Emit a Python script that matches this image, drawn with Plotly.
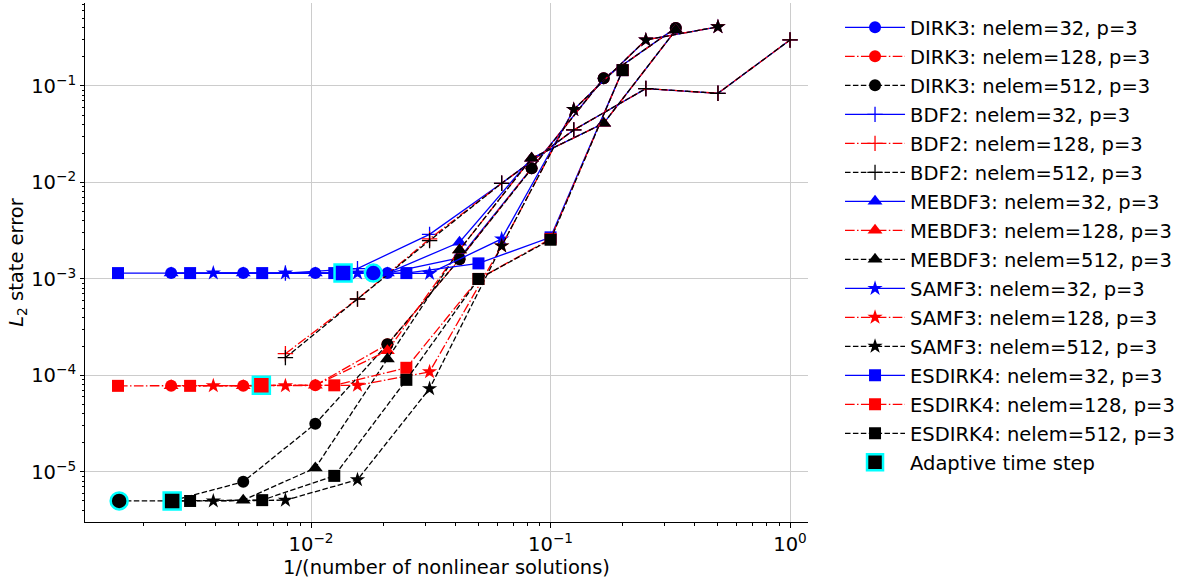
import plotly.graph_objects as go

# ---------------- data ----------------
dirk3_x = [1/384, 1/192, 1/96, 1/48, 1/24, 1/12, 1/6, 1/3]
dirk3_32 = [1.15e-3, 1.15e-3, 1.15e-3, 1.15e-3, 1.65e-3, 1.4e-2, 0.12, 0.40]
dirk3_128 = [7.8e-5, 7.8e-5, 7.9e-5, 2.1e-4, 1.6e-3, 1.4e-2, 0.12, 0.40]
dirk3_512 = [5.0e-6, 7.9e-6, 3.15e-5, 2.1e-4, 1.6e-3, 1.4e-2, 0.12, 0.40]

bdf2_x = [1/128, 1/64, 1/32, 1/16, 1/8, 1/4, 1/2, 1]
bdf2_32 = [1.15e-3, 1.28e-3, 2.9e-3, 9.8e-3, 3.5e-2, 9.4e-2, 8.4e-2, 0.30]
bdf2_128 = [1.68e-4, 6.2e-4, 2.6e-3, 9.8e-3, 3.5e-2, 9.4e-2, 8.4e-2, 0.30]
bdf2_512 = [1.53e-4, 6.2e-4, 2.5e-3, 9.8e-3, 3.5e-2, 9.4e-2, 8.4e-2, 0.30]

mebdf3_x = [1/384, 1/192, 1/96, 1/48, 1/24, 1/12, 1/6, 1/3]
mebdf3_32 = [1.15e-3, 1.15e-3, 1.15e-3, 1.15e-3, 2.4e-3, 1.78e-2, 4.1e-2, 0.38]
mebdf3_128 = [7.8e-5, 7.8e-5, 7.9e-5, 1.8e-4, 2.0e-3, 1.78e-2, 4.1e-2, 0.38]
mebdf3_512 = [5.0e-6, 5.1e-6, 1.1e-5, 1.48e-4, 2.0e-3, 1.78e-2, 4.1e-2, 0.38]

samf3_x = [1/256, 1/128, 1/64, 1/32, 1/16, 1/8, 1/4, 1/2]
samf3_32 = [1.15e-3, 1.15e-3, 1.15e-3, 1.14e-3, 2.6e-3, 5.7e-2, 0.30, 0.41]
samf3_128 = [7.8e-5, 7.8e-5, 7.9e-5, 1.09e-4, 2.2e-3, 5.7e-2, 0.30, 0.41]
samf3_512 = [5.0e-6, 5.1e-6, 8.3e-6, 7.3e-5, 2.2e-3, 5.7e-2, 0.30, 0.41]

esdirk4_x = [1/640, 1/320, 1/160, 1/80, 1/40, 1/20, 1/10, 1/5]
esdirk4_32 = [1.15e-3, 1.15e-3, 1.15e-3, 1.15e-3, 1.15e-3, 1.45e-3, 2.7e-3, 0.146]
esdirk4_128 = [7.8e-5, 7.8e-5, 7.8e-5, 7.9e-5, 1.2e-4, 1.0e-3, 2.6e-3, 0.146]
esdirk4_512 = [5.0e-6, 5.0e-6, 5.1e-6, 9.1e-6, 9.0e-5, 1.0e-3, 2.55e-3, 0.146]

# adaptive time step results
adaptive_method = ["DIRK3", "ESDIRK4", "ESDIRK4", "DIRK3", "ESDIRK4"]
adaptive_nelem = [32, 32, 128, 512, 512]
adaptive_x = [0.0182, 0.0136, 6.2e-3, 1.58e-3, 2.63e-3]
adaptive_y = [1.15e-3, 1.15e-3, 7.9e-5, 5.0e-6, 5.0e-6]

nelems = [32, 128, 512]
x_tickvals = [1e-2, 1e-1, 1e0]
x_ticktext = ["10<sup>\u22122</sup>", "10<sup>\u22121</sup>", "10<sup>0</sup>"]
y_tickvals = [1e-5, 1e-4, 1e-3, 1e-2, 1e-1]
y_ticktext = ["10<sup>\u22125</sup>", "10<sup>\u22124</sup>", "10<sup>\u22123</sup>",
              "10<sup>\u22122</sup>", "10<sup>\u22121</sup>"]

# ---------------- styling ----------------
colors = {32: "#0000ff", 128: "#ff0000", 512: "#000000"}
dashes = {32: "solid", 128: "9.6px,2.4px,1.5px,2.4px", 512: "5.5px,2.4px"}
symbols = {"DIRK3": "circle", "BDF2": "cross-thin", "MEBDF3": "triangle-up",
           "SAMF3": "star", "ESDIRK4": "square"}
msize = {"DIRK3": 12, "BDF2": 11, "MEBDF3": 13, "SAMF3": 11.5, "ESDIRK4": 12}

series = [
    ("DIRK3", dirk3_x, [dirk3_32, dirk3_128, dirk3_512]),
    ("BDF2", bdf2_x, [bdf2_32, bdf2_128, bdf2_512]),
    ("MEBDF3", mebdf3_x, [mebdf3_32, mebdf3_128, mebdf3_512]),
    ("SAMF3", samf3_x, [samf3_32, samf3_128, samf3_512]),
    ("ESDIRK4", esdirk4_x, [esdirk4_32, esdirk4_128, esdirk4_512]),
]

FONT = "DejaVu Sans"
FS = 19.5
fig = go.Figure()
gi = 0
for name, xs, ylists in series:
    for ne, ys in zip(nelems, ylists):
        c = colors[ne]
        sym = symbols[name]
        if sym == "cross-thin":
            mk = dict(symbol=sym, size=msize[name], color=c, line=dict(color=c, width=1.3))
        else:
            mk = dict(symbol=sym, size=msize[name], color=c, line=dict(color=c, width=0))
        fig.add_trace(go.Scatter(
            x=xs, y=ys, mode="lines+markers",
            name=f"{name}: nelem={ne}, p=3",
            line=dict(color=c, width=1.3, dash=dashes[ne]),
            marker=mk, legendgroup=f"g{gi}"))
        gi += 1

for m, ne, ax, ay in zip(adaptive_method, adaptive_nelem, adaptive_x, adaptive_y):
    show = (m == "ESDIRK4" and ne == 512)
    fig.add_trace(go.Scatter(
        x=[ax], y=[ay], mode="markers",
        name="Adaptive time step", showlegend=show,
        legendgroup="gad",
        marker=dict(symbol=symbols[m], size=17, color=colors[ne],
                    line=dict(color="#00ffff", width=2.5))))

fig.update_layout(
    width=1188, height=580,
    margin=dict(l=85, r=380, t=3, b=58),
    paper_bgcolor="white", plot_bgcolor="white",
    font=dict(family=FONT, size=FS, color="black"),
    showlegend=True,
    legend=dict(x=1.0443, y=0.990, xanchor="left", yanchor="top",
                font=dict(family=FONT, size=FS, color="black"),
                traceorder="grouped", tracegroupgap=0.65, itemwidth=60,
                bgcolor="rgba(255,255,255,0)", borderwidth=0),
)
fig.update_xaxes(
    type="log", range=[-2.944, 0.075],
    showgrid=True, gridcolor="#cccccc", gridwidth=1,
    showline=True, linecolor="black", linewidth=1,
    ticks="outside", ticklen=5, tickcolor="black",
    tickvals=x_tickvals, ticktext=x_ticktext,
    minor=dict(ticks="outside", ticklen=3, tickcolor="black", dtick="D1", showgrid=False),
    tickfont=dict(family=FONT, size=FS),
    title=dict(text="1/(number of nonlinear solutions)", font=dict(family=FONT, size=FS), standoff=2),
    zeroline=False,
)
fig.update_yaxes(
    type="log", range=[-5.519, -0.140],
    showgrid=True, gridcolor="#cccccc", gridwidth=1,
    showline=True, linecolor="black", linewidth=1,
    ticks="outside", ticklen=4, tickcolor="black",
    tickvals=y_tickvals, ticktext=y_ticktext,
    minor=dict(ticks="outside", ticklen=2.5, tickcolor="black", dtick="D1", showgrid=False),
    tickfont=dict(family=FONT, size=FS),
    title=dict(text="<i>L</i><sub>2</sub> state error", font=dict(family=FONT, size=FS), standoff=2),
    zeroline=False,
)

fig.write_html("out.html")
